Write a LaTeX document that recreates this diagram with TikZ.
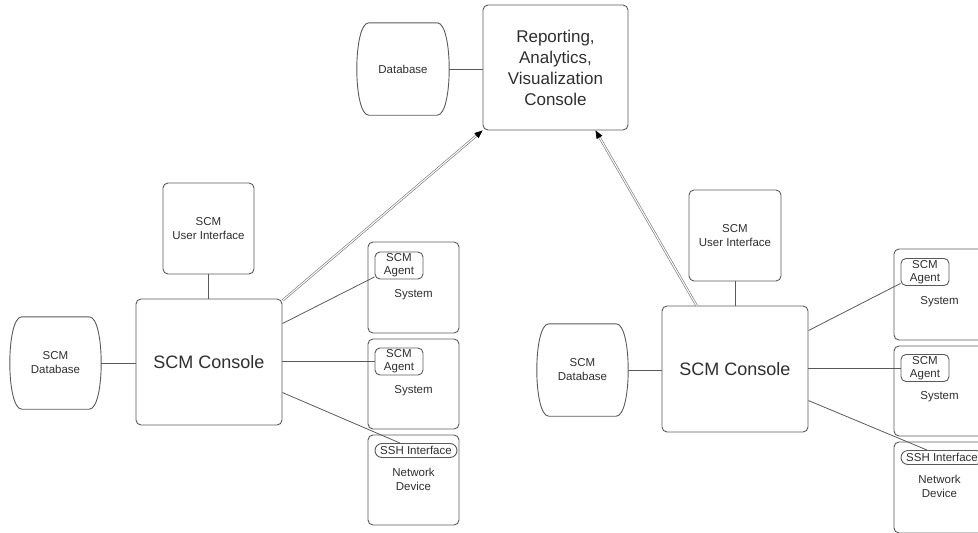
\documentclass[tikz,border=0pt]{standalone}
\usepackage{fontspec}
\setmainfont{Liberation Sans}
\usetikzlibrary{calc,arrows.meta}
\definecolor{edgegray}{HTML}{5A5A5A}
\definecolor{inkgray}{HTML}{2E2E2E}

% database outline: flat top and bottom, bulging sides
\newcommand\dbshape[1]{%
  \draw[outline]
    ($(#1.north west)+(12,0)$) -- ($(#1.north east)+(-12,0)$)
    .. controls ($(#1.north east)+(4,0)$) and ($(#1.south east)+(4,0)$) ..
    ($(#1.south east)+(-12,0)$) -- ($(#1.south west)+(12,0)$)
    .. controls ($(#1.south west)+(-4,0)$) and ($(#1.north west)+(-4,0)$) .. cycle;}

\tikzset{
  outline/.style={draw=edgegray, line width=0.9pt},
  box/.style={outline, rounded corners=5pt, inner sep=0pt, text=inkgray, align=center,
              font=\fontsize{11.5}{14}\selectfont},
  dbnode/.style={inner sep=0pt, text=inkgray, align=center, font=\fontsize{11.5}{14}\selectfont},
  small/.style={text=inkgray, align=center, inner sep=0pt, font=\fontsize{11.5}{14}\selectfont},
  agent/.style={outline, rounded corners=5pt, inner sep=0pt, text=inkgray, align=center,
                minimum width=48pt, minimum height=27pt, font=\fontsize{11.5}{13}\selectfont},
  sshif/.style={outline, rounded corners=7pt, inner sep=0pt, text=inkgray,
                minimum width=82pt, minimum height=14pt, font=\fontsize{11.5}{13}\selectfont},
  link/.style={draw=edgegray, line width=0.8pt},
  uplink/.style={draw=edgegray!85, line width=0.6pt, double=white, double distance=1.1pt,
                 -{Triangle[length=8pt,width=6.5pt,color=black]}},
}

\begin{document}
\begin{tikzpicture}[x=1pt, y=-1pt]
\useasboundingbox (0,0) rectangle (978,533);
\clip (0,0) rectangle (978,533);

% central reporting console and its store
\node[box, minimum width=145pt, minimum height=125pt,
      font=\fontsize{17}{21}\selectfont] (rep) at (555.5,67.5)
      {Reporting,\\Analytics,\\Visualization\\Console};
\node[dbnode, minimum width=92pt, minimum height=92pt] (tdb) at (403,69) {Database};
\dbshape{tdb}
\draw[link] (tdb.east) -- (rep.west |- tdb.east);

% ---------- left site ----------
\node[box, minimum width=91pt, minimum height=91pt] (ui1) at (208.5,228.5) {SCM\\User Interface};
\node[box, minimum width=146pt, minimum height=126pt,
      font=\fontsize{18}{22}\selectfont] (con1) at (209,362) {SCM Console};
\node[dbnode, minimum width=91pt, minimum height=92pt] (db1) at (55.5,363) {SCM\\Database};
\dbshape{db1}

\node[box, minimum width=91pt, minimum height=91pt] (sysA1) at (413.5,287.5) {};
\node[agent] (agA1) at (399,265.5) {SCM\\Agent};
\node[small] (sysA1t) at (413.5,295) {System};

\node[box, minimum width=91pt, minimum height=90pt] (sysB1) at (413.5,384) {};
\node[agent] (agB1) at (399,361.5) {SCM\\Agent};
\node[small] (sysB1t) at (413.5,391) {System};

\node[box, minimum width=91pt, minimum height=90pt] (net1) at (413.5,480) {};
\node[sshif] (ssh1) at (416,450.5) {SSH Interface};
\node[small] (net1t) at (413.5,479.5) {Network\\Device};

\draw[link] (ui1.south) -- (con1.north -| ui1.south);
\draw[link] (db1.east) -- (con1.west |- db1.east);
\draw[link] ($(con1.north east)+(0,25)$) -- (agA1.205);
\draw[link] (con1.east |- agB1.west) -- (agB1.west);
\draw[link] ($(con1.north east)+(0,94)$) -- ($(ssh1.north)+(-16,0)$);
\draw[uplink] ($(con1.north east)+(0,2)$) -- (rep.south west);

% ---------- right site ----------
\node[box, minimum width=92pt, minimum height=91pt] (ui2) at (735,235.5) {SCM\\User Interface};
\node[box, minimum width=146pt, minimum height=126pt,
      font=\fontsize{18}{22}\selectfont] (con2) at (735,369) {SCM Console};
\node[dbnode, minimum width=91pt, minimum height=92pt] (db2) at (582.5,370) {SCM\\Database};
\dbshape{db2}

\node[box, minimum width=91pt, minimum height=91pt] (sysA2) at (939.5,294.5) {};
\node[agent] (agA2) at (925,272) {SCM\\Agent};
\node[small] (sysA2t) at (939.5,302) {System};

\node[box, minimum width=91pt, minimum height=90pt] (sysB2) at (939.5,391) {};
\node[agent] (agB2) at (925,368) {SCM\\Agent};
\node[small] (sysB2t) at (939.5,397) {System};

\node[box, minimum width=91pt, minimum height=91pt] (net2) at (939.5,487.5) {};
\node[sshif] (ssh2) at (942,457.5) {SSH Interface};
\node[small] (net2t) at (939.5,486) {Network\\Device};

\draw[link] (ui2.south) -- (con2.north -| ui2.south);
\draw[link] (db2.east) -- (con2.west |- db2.east);
\draw[link] ($(con2.north east)+(0,25)$) -- (agA2.205);
\draw[link] (con2.east |- agB2.west) -- (agB2.west);
\draw[link] ($(con2.north east)+(0,95)$) -- ($(ssh2.north)+(-15,0)$);
\draw[uplink] ($(con2.north west)+(35,0)$) -- ($(rep.south)+(40,0)$);
\end{tikzpicture}
\end{document}
